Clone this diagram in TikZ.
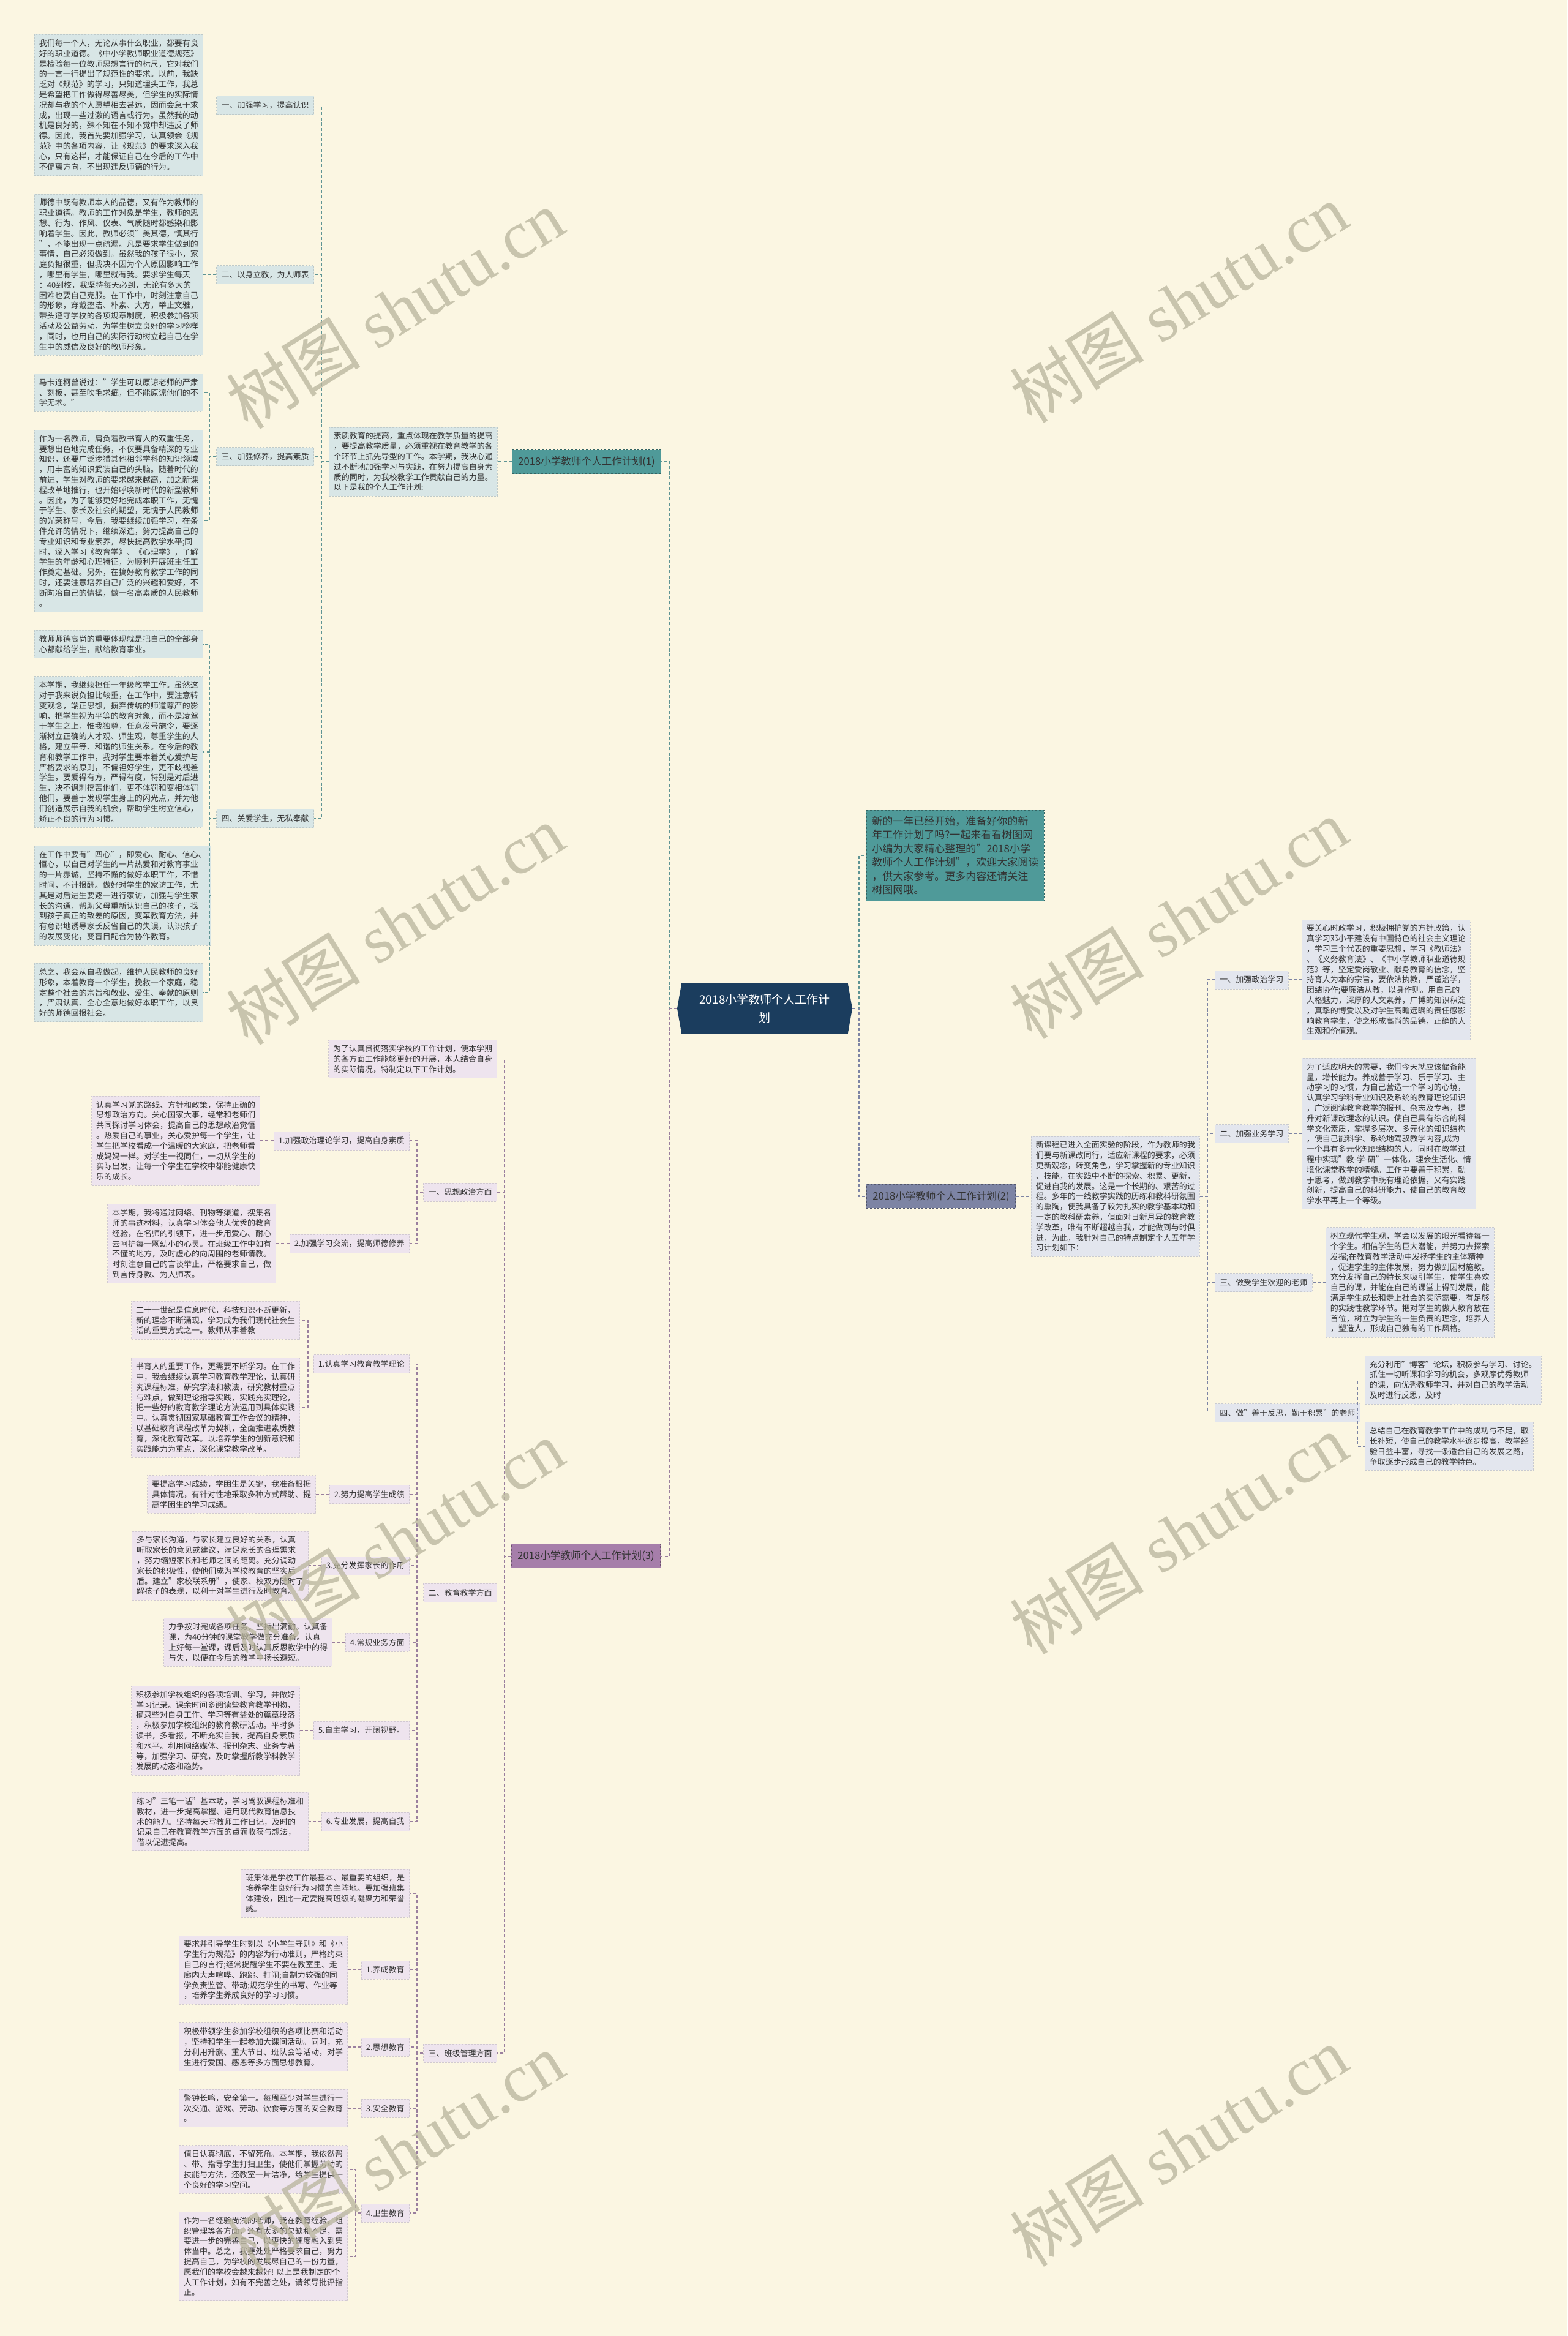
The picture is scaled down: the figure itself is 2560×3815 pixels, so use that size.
\documentclass[tikz,border=0pt]{standalone}
\usepackage{fontspec}
\setmainfont{Noto Sans CJK SC}
\newfontfamily\wmlatin{Liberation Serif}
\usetikzlibrary{calc,shapes.symbols}
\definecolor{bg}{HTML}{FBF6E2}
\definecolor{cNavy}{HTML}{1B3D5E}
\definecolor{cTeal}{HTML}{4F9A99}
\definecolor{cTealLine}{HTML}{5E9494}
\definecolor{cB1}{HTML}{D8E6E6}
\definecolor{cSlate}{HTML}{7D84A4}
\definecolor{cB2}{HTML}{E3E6EE}
\definecolor{cMauve}{HTML}{A67EAA}
\definecolor{cMauveLine}{HTML}{9A7F9E}
\definecolor{cB3}{HTML}{EEE4EE}
\definecolor{cTxt}{HTML}{333333}
\definecolor{cWm}{HTML}{B8B49C}
\begin{document}
\begin{tikzpicture}[x=1pt,y=-1pt,
  boxbase/.style={font=\fontsize{13}{16.8}\selectfont, text=cTxt, align=left, inner xsep=7.5pt, inner ysep=8pt, densely dashed, line width=0.6pt},
  tone/.style={boxbase, fill=cB1, draw=cB1!88!black},
  ttwo/.style={boxbase, fill=cB2, draw=cB2!88!black},
  tthree/.style={boxbase, fill=cB3, draw=cB3!88!black},
  labbase/.style={font=\fontsize{13}{16}\selectfont, text=cTxt, inner xsep=8pt, inner ysep=0pt, minimum height=30pt, densely dashed, line width=0.6pt},
  labone/.style={labbase, fill=cB1, draw=cB1!88!black},
  labtwo/.style={labbase, fill=cB2, draw=cB2!88!black},
  labthree/.style={labbase, fill=cB3, draw=cB3!88!black},
  brbase/.style={font=\fontsize{16.6}{19}\selectfont, text=cTxt, inner xsep=10pt, inner ysep=0pt, minimum height=39pt, dashed, line width=0.8pt},
  brone/.style={brbase, fill=cTeal, draw=cTeal!65!black},
  brtwo/.style={brbase, fill=cSlate, draw=cSlate!65!black},
  brthree/.style={brbase, fill=cMauve, draw=cMauve!65!black},
  lnbase/.style={dash pattern=on 5pt off 3.5pt, line width=1.3pt},
  lnone/.style={lnbase, draw=cTealLine},
  lntwo/.style={lnbase, draw=cSlate},
  lnthree/.style={lnbase, draw=cMauveLine},
  wm/.style={text=cWm, opacity=0.75, font=\fontsize{110}{110}\selectfont, rotate=32, inner sep=0pt}
]
\fill[bg] (0,0) rectangle (2560,3815);
\useasboundingbox (0,0) rectangle (2560,3815);

% x positions
\coordinate (v0) at (1094,0);
\coordinate (v0r) at (1403,0);
\coordinate (xlone) at (513,0);
\coordinate (vone) at (525,0);
\coordinate (vtwo) at (342,0);
\coordinate (xmone) at (537,0);
\coordinate (xbrone) at (836,0);
\coordinate (xs) at (669,0);
\coordinate (xg) at (812,0);
\coordinate (vg) at (681,0);
\coordinate (vbr3) at (824,0);
\coordinate (xbr3) at (835,0);
\coordinate (vq) at (503,0);
\coordinate (vr) at (581,0);
\coordinate (xk) at (1984,0);
\coordinate (vk) at (1972,0);
\coordinate (vkfour) at (2217,0);
\coordinate (xxo) at (1684,0);
\coordinate (xbrtwo) at (1415,0);

% center
\node[shape=signal, signal to=west and east, signal pointer angle=160, fill=cNavy, text=white, minimum width=286pt, minimum height=83pt, inner sep=0pt, align=center, font=\fontsize{19}{30}\selectfont] (C) at (1249,1647) {2018小学教师个人工作计\\划};

% ---------- branch 1 ----------
\node[tone, anchor=west] (B1) at (56,171.5) {我们每一个人，无论从事什么职业，都要有良\\好的职业道德。《中小学教师职业道德规范》\\是检验每一位教师思想言行的标尺，它对我们\\的一言一行提出了规范性的要求。以前，我缺\\乏对《规范》的学习，只知道埋头工作，我总\\是希望把工作做得尽善尽美，但学生的实际情\\况却与我的个人愿望相去甚远，因而会急于求\\成，出现一些过激的语言或行为。虽然我的动\\机是良好的，殊不知在不知不觉中却违反了师\\德。因此，我首先要加强学习，认真领会《规\\范》中的各项内容，让《规范》的要求深入我\\心，只有这样，才能保证自己在今后的工作中\\不偏离方向，不出现违反师德的行为。};
\node[tone, anchor=west] (B2) at (56,448.5) {师德中既有教师本人的品德，又有作为教师的\\职业道德。教师的工作对象是学生，教师的思\\想、行为、作风、仪表、气质随时都感染和影\\响着学生。因此，教师必须"美其德，慎其行\\"，不能出现一点疏漏。凡是要求学生做到的\\事情，自己必须做到。虽然我的孩子很小，家\\庭负担很重，但我决不因为个人原因影响工作\\，哪里有学生，哪里就有我。要求学生每天\\：40到校，我坚持每天必到，无论有多大的\\困难也要自己克服。在工作中，时刻注意自己\\的形象，穿戴整洁、朴素、大方，举止文雅，\\带头遵守学校的各项规章制度，积极参加各项\\活动及公益劳动，为学生树立良好的学习榜样\\，同时，也用自己的实际行动树立起自己在学\\生中的威信及良好的教师形象。};
\node[tone, anchor=west] (B3) at (56,641) {马卡连柯曾说过："学生可以原谅老师的严肃\\、刻板，甚至吹毛求疵，但不能原谅他们的不\\学无术。"};
\node[tone, anchor=west] (B4) at (56,850.5) {作为一名教师，肩负着教书育人的双重任务，\\要想出色地完成任务，不仅要具备精深的专业\\知识，还要广泛涉猎其他相邻学科的知识领域\\，用丰富的知识武装自己的头脑。随着时代的\\前进，学生对教师的要求越来越高，加之新课\\程改革地推行，也开始呼唤新时代的新型教师\\。因此，为了能够更好地完成本职工作，无愧\\于学生、家长及社会的期望，无愧于人民教师\\的光荣称号，今后，我要继续加强学习，在条\\件允许的情况下，继续深造，努力提高自己的\\专业知识和专业素养，尽快提高教学水平;同\\时，深入学习《教育学》、《心理学》，了解\\学生的年龄和心理特征，为顺利开展班主任工\\作奠定基础。另外，在搞好教育教学工作的同\\时，还要注意培养自己广泛的兴趣和爱好，不\\断陶冶自己的情操，做一名高素质的人民教师\\。};
\node[tone, anchor=west] (B5) at (56,1052) {教师师德高尚的重要体现就是把自己的全部身\\心都献给学生，献给教育事业。};
\node[tone, anchor=west] (B6) at (56,1228) {本学期，我继续担任一年级教学工作。虽然这\\对于我来说负担比较重，在工作中，要注意转\\变观念，端正思想，摒弃传统的师道尊严的影\\响，把学生视为平等的教育对象，而不是凌驾\\于学生之上，惟我独尊，任意发号施令，要逐\\渐树立正确的人才观、师生观，尊重学生的人\\格，建立平等、和谐的师生关系。在今后的教\\育和教学工作中，我对学生要本着关心爱护与\\严格要求的原则，不偏袒好学生，更不歧视差\\学生，要爱得有方，严得有度，特别是对后进\\生，决不讽刺挖苦他们，更不体罚和变相体罚\\他们，要善于发现学生身上的闪光点，并为他\\们创造展示自我的机会，帮助学生树立信心，\\矫正不良的行为习惯。};
\node[tone, anchor=west] (B7) at (56,1462.5) {在工作中要有"四心"，即爱心、耐心、信心、\\恒心，以自己对学生的一片热爱和对教育事业\\的一片赤诚，坚持不懈的做好本职工作，不惜\\时间，不计报酬。做好对学生的家访工作，尤\\其是对后进生要逐一进行家访，加强与学生家\\长的沟通，帮助父母重新认识自己的孩子，找\\到孩子真正的致差的原因，变革教育方法，并\\有意识地诱导家长反省自己的失误，认识孩子\\的发展变化，变盲目配合为协作教育。};
\node[tone, anchor=west] (B8) at (56,1621) {总之，我会从自我做起，维护人民教师的良好\\形象，本着教育一个学生，挽救一个家庭，稳\\定整个社会的宗旨和敬业、爱生、奉献的原则\\，严肃认真、全心全意地做好本职工作，以良\\好的师德回报社会。};

\node[labone, anchor=east] (L1) at (B1.east -| xlone) {一、加强学习，提高认识};
\node[labone, anchor=east] (L2) at (B2.east -| xlone) {二、以身立教，为人师表};
\coordinate (mthree) at ($(B3.east)!0.5!(B4.east)$);
\node[labone, anchor=east] (L3) at (mthree -| xlone) {三、加强修养，提高素质};
\coordinate (mfour) at ($(B5.east)!0.5!(B8.east)$);
\node[labone, anchor=east] (L4) at (mfour -| xlone) {四、关爱学生，无私奉献};
\coordinate (mmone) at ($(L1.east)!0.5!(L4.east)$);
\node[tone, anchor=west] (M1) at (mmone -| xmone) {素质教育的提高，重点体现在教学质量的提高\\，要提高教学质量，必须重视在教育教学的各\\个环节上抓先导型的工作。本学期，我决心通\\过不断地加强学习与实践，在努力提高自身素\\质的同时，为我校教学工作贡献自己的力量。\\以下是我的个人工作计划:};
\node[brone, anchor=west] (BR1) at (M1.west -| xbrone) {2018小学教师个人工作计划(1)};

\draw[lnone] (C.west) -- (C.west -| v0) |- (BR1.east);
\draw[lnone] (BR1.west) -- (M1.east);
\foreach \n in {L1,L2,L3,L4} {\draw[lnone] (M1.west) -- (M1.west -| vone) |- (\n.east);}
\draw[lnone] (L1.west) -- (B1.east);
\draw[lnone] (L2.west) -- (B2.east);
\foreach \n in {B3,B4} {\draw[lnone] (L3.west) -- (L3.west -| vtwo) |- (\n.east);}
\foreach \n in {B5,B6,B7,B8} {\draw[lnone] (L4.west) -- (L4.west -| vtwo) |- (\n.east);}

% ---------- branch 2 ----------
\node[boxbase, anchor=west, fill=cTeal, draw=cTeal!65!black, dashed, font=\fontsize{17}{22.5}\selectfont, inner xsep=9pt, inner ysep=10pt] (I0) at (1415,1397) {新的一年已经开始，准备好你的新\\年工作计划了吗?一起来看看树图网\\小编为大家精心整理的"2018小学\\教师个人工作计划"，欢迎大家阅读\\，供大家参考。更多内容还请关注\\树图网哦。};

\node[ttwo, anchor=west] (Y1) at (2126,1600) {要关心时政学习，积极拥护党的方针政策，认\\真学习邓小平建设有中国特色的社会主义理论\\，学习三个代表的重要思想，学习《教师法》\\、《义务教育法》、《中小学教师职业道德规\\范》等，坚定爱岗敬业、献身教育的信念，坚\\持育人为本的宗旨，要依法执教，严谨治学，\\团结协作;要廉洁从教，以身作则。用自己的\\人格魅力，深厚的人文素养，广博的知识积淀\\，真挚的博爱以及对学生高瞻远瞩的责任感影\\响教育学生，使之形成高尚的品德，正确的人\\生观和价值观。};
\node[ttwo, anchor=west] (Y2) at (2126,1851.5) {为了适应明天的需要，我们今天就应该储备能\\量，增长能力。养成善于学习、乐于学习、主\\动学习的习惯，为自己营造一个学习的心境，\\认真学习学科专业知识及系统的教育理论知识\\，广泛阅读教育教学的报刊、杂志及专著，提\\升对新课改理念的认识。使自己具有综合的科\\学文化素质，掌握多层次、多元化的知识结构\\，使自己能科学、系统地驾驭教学内容,成为\\一个具有多元化知识结构的人。同时在教学过\\程中实现"教-学-研"一体化，理会生活化、情\\境化课堂教学的精髓。工作中要善于积累，勤\\于思考，做到教学中既有理论依据，又有实践\\创新，提高自己的科研能力，使自己的教育教\\学水平再上一个等级。};
\node[ttwo, anchor=west] (Y3) at (2165,2094.5) {树立现代学生观，学会以发展的眼光看待每一\\个学生。相信学生的巨大潜能，并努力去探索\\发掘;在教育教学活动中发扬学生的主体精神\\，促进学生的主体发展，努力做到因材施教。\\充分发挥自己的特长来吸引学生，使学生喜欢\\自己的课，并能在自己的课堂上得到发展，能\\满足学生成长和走上社会的实际需要，有足够\\的实践性教学环节。把对学生的做人教育放在\\首位，树立为学生的一生负责的理念，培养人\\，塑造人，形成自己独有的工作风格。};
\node[ttwo, anchor=west] (Y4a) at (2229,2253.5) {充分利用"博客"论坛，积极参与学习、讨论。\\抓住一切听课和学习的机会，多观摩优秀教师\\的课，向优秀教师学习，并对自己的教学活动\\及时进行反思，及时};
\node[ttwo, anchor=west] (Y4b) at (2229,2362) {总结自己在教育教学工作中的成功与不足，取\\长补短，使自己的教学水平逐步提高，教学经\\验日益丰富，寻找一条适合自己的发展之路，\\争取逐步形成自己的教学特色。};

\node[labtwo, anchor=west] (K1) at (Y1.west -| xk) {一、加强政治学习};
\node[labtwo, anchor=west] (K2) at (Y2.west -| xk) {二、加强业务学习};
\node[labtwo, anchor=west] (K3) at (Y3.west -| xk) {三、做受学生欢迎的老师};
\coordinate (mkfour) at ($(Y4a.west)!0.5!(Y4b.west)$);
\node[labtwo, anchor=west] (K4) at (mkfour -| xk) {四、做"善于反思，勤于积累"的老师};
\coordinate (mxo) at ($(K1.west)!0.5!(K4.west)$);
\node[ttwo, anchor=west] (X0) at (mxo -| xxo) {新课程已进入全面实验的阶段，作为教师的我\\们要与新课改同行，适应新课程的要求，必须\\更新观念，转变角色，学习掌握新的专业知识\\、技能，在实践中不断的探索、积累、更新，\\促进自我的发展。这是一个长期的、艰苦的过\\程。多年的一线教学实践的历练和教科研氛围\\的熏陶，使我具备了较为扎实的教学基本功和\\一定的教科研素养，但面对日新月异的教育教\\学改革，唯有不断超越自我，才能做到与时俱\\进，为此，我针对自己的特点制定个人五年学\\习计划如下：};
\node[brtwo, anchor=west] (BR2) at (X0.west -| xbrtwo) {2018小学教师个人工作计划(2)};

\draw[lnone] (C.east) -- (C.east -| v0r) |- (I0.west);
\draw[lntwo] (C.east) -- (C.east -| v0r) |- (BR2.west);
\draw[lntwo] (BR2.east) -- (X0.west);
\foreach \n in {K1,K2,K3,K4} {\draw[lntwo] (X0.east) -- (X0.east -| vk) |- (\n.west);}
\draw[lntwo] (K1.east) -- (Y1.west);
\draw[lntwo] (K2.east) -- (Y2.west);
\draw[lntwo] (K3.east) -- (Y3.west);
\foreach \n in {Y4a,Y4b} {\draw[lntwo] (K4.east) -- (K4.east -| vkfour) |- (\n.west);}

% ---------- branch 3 ----------
\node[tthree, anchor=east] (T0) at (812,1729.5) {为了认真贯彻落实学校的工作计划，使本学期\\的各方面工作能够更好的开展，本人结合自身\\的实际情况，特制定以下工作计划。};
\node[tthree, anchor=east] (P1) at (425,1863) {认真学习党的路线、方针和政策，保持正确的\\思想政治方向。关心国家大事，经常和老师们\\共同探讨学习体会，提高自己的思想政治觉悟\\。热爱自己的事业，关心爱护每一个学生，让\\学生把学校看成一个温暖的大家庭，把老师看\\成妈妈一样。对学生一视同仁，一切从学生的\\实际出发，让每一个学生在学校中都能健康快\\乐的成长。};
\node[tthree, anchor=east] (P2) at (451,2031) {本学期，我将通过网络、刊物等渠道，搜集名\\师的事迹材料，认真学习体会他人优秀的教育\\经验，在名师的引领下，进一步用爱心、耐心\\去呵护每一颗幼小的心灵。在班级工作中如有\\不懂的地方，及时虚心的向周围的老师请教。\\时刻注意自己的言谈举止，严格要求自己，做\\到言传身教、为人师表。};
\node[labthree, anchor=east] (S11) at (P1.east -| xs) {1.加强政治理论学习，提高自身素质};
\node[labthree, anchor=east] (S12) at (P2.east -| xs) {2.加强学习交流，提高师德修养};
\coordinate (mgone) at ($(S11.east)!0.5!(S12.east)$);
\node[labthree, anchor=east] (G1) at (mgone -| xg) {一、思想政治方面};

\node[tthree, anchor=east] (Q1a) at (490,2156) {二十一世纪是信息时代，科技知识不断更新，\\新的理念不断涌现，学习成为我们现代社会生\\活的重要方式之一。教师从事着教};
\node[tthree, anchor=east] (Q1b) at (490,2299) {书育人的重要工作，更需要不断学习。在工作\\中，我会继续认真学习教育教学理论，认真研\\究课程标准，研究学法和教法，研究教材重点\\与难点，做到理论指导实践，实践充实理论，\\把一些好的教育教学理论方法运用到具体实践\\中。认真贯彻国家基础教育工作会议的精神，\\以基础教育课程改革为契机，全面推进素质教\\育，深化教育改革。以培养学生的创新意识和\\实践能力为重点，深化课堂教学改革。};
\node[tthree, anchor=east] (Q2) at (516,2440.5) {要提高学习成绩，学困生是关键，我准备根据\\具体情况，有针对性地采取多种方式帮助、提\\高学困生的学习成绩。};
\node[tthree, anchor=east] (Q3) at (504,2557) {多与家长沟通，与家长建立良好的关系，认真\\听取家长的意见或建议，满足家长的合理需求\\，努力缩短家长和老师之间的距离。充分调动\\家长的积极性，使他们成为学校教育的坚实后\\盾。建立"家校联系册"，使家、校双方随时了\\解孩子的表现，以利于对学生进行及时教育。};
\node[tthree, anchor=east] (Q4) at (543,2682) {力争按时完成各项任务，坚持出满勤。认真备\\课，为40分钟的课堂教学做充分准备。认真\\上好每一堂课，课后及时认真反思教学中的得\\与失，以便在今后的教学中扬长避短。};
\node[tthree, anchor=east] (Q5) at (490,2826) {积极参加学校组织的各项培训、学习，并做好\\学习记录。课余时间多阅读些教育教学刊物，\\摘录些对自身工作、学习等有益处的篇章段落\\，积极参加学校组织的教育教研活动。平时多\\读书，多看报，不断充实自我，提高自身素质\\和水平。利用网络媒体、报刊杂志、业务专著\\等，加强学习、研究，及时掌握所教学科教学\\发展的动态和趋势。};
\node[tthree, anchor=east] (Q6) at (504,2975) {练习"三笔一话"基本功，学习驾驭课程标准和\\教材，进一步提高掌握、运用现代教育信息技\\术的能力。坚持每天写教师工作日记，及时的\\记录自己在教育教学方面的点滴收获与想法，\\借以促进提高。};
\coordinate (msone) at ($(Q1a.east)!0.5!(Q1b.east)$);
\node[labthree, anchor=east] (S21) at (msone -| xs) {1.认真学习教育教学理论};
\node[labthree, anchor=east] (S22) at (Q2.east -| xs) {2.努力提高学生成绩};
\node[labthree, anchor=east] (S23) at (Q3.east -| xs) {3.充分发挥家长的作用};
\node[labthree, anchor=east] (S24) at (Q4.east -| xs) {4.常规业务方面};
\node[labthree, anchor=east] (S25) at (Q5.east -| xs) {5.自主学习，开阔视野。};
\node[labthree, anchor=east] (S26) at (Q6.east -| xs) {6.专业发展，提高自我};
\coordinate (mgtwo) at ($(S21.east)!0.5!(S26.east)$);
\node[labthree, anchor=east] (G2) at (mgtwo -| xg) {二、教育教学方面};

\node[tthree, anchor=east] (R0) at (669,3092) {班集体是学校工作最基本、最重要的组织，是\\培养学生良好行为习惯的主阵地。要加强班集\\体建设，因此一定要提高班级的凝聚力和荣誉\\感。};
\node[tthree, anchor=east] (R1) at (568,3217) {要求并引导学生时刻以《小学生守则》和《小\\学生行为规范》的内容为行动准则，严格约束\\自己的言行;经常提醒学生不要在教室里、走\\廊内大声喧哗、跑跳、打闹;自制力较强的同\\学负责监管、带动;规范学生的书写、作业等\\，培养学生养成良好的学习习惯。};
\node[tthree, anchor=east] (R2) at (568,3343) {积极带领学生参加学校组织的各项比赛和活动\\，坚持和学生一起参加大课间活动。同时，充\\分利用升旗、重大节日、班队会等活动，对学\\生进行爱国、感恩等多方面思想教育。};
\node[tthree, anchor=east] (R3) at (568,3443) {警钟长鸣，安全第一。每周至少对学生进行一\\次交通、游戏、劳动、饮食等方面的安全教育\\。};
\node[tthree, anchor=east] (R4a) at (568,3543) {值日认真彻底，不留死角。本学期，我依然帮\\、带、指导学生打扫卫生，使他们掌握劳动的\\技能与方法，还教室一片洁净，给学生提供一\\个良好的学习空间。};
\node[tthree, anchor=east] (R4b) at (568,3685) {作为一名经验尚浅的老师，我在教育经验，组\\织管理等各方面，还有太多的欠缺和不足，需\\要进一步的完善自己，以更快的速度融入到集\\体当中。总之，我要处处严格要求自己，努力\\提高自己，为学校的发展尽自己的一份力量，\\愿我们的学校会越来越好! 以上是我制定的个\\人工作计划，如有不完善之处，请领导批评指\\正。};
\node[labthree, anchor=east] (S31) at (R1.east -| xs) {1.养成教育};
\node[labthree, anchor=east] (S32) at (R2.east -| xs) {2.思想教育};
\node[labthree, anchor=east] (S33) at (R3.east -| xs) {3.安全教育};
\coordinate (msfour) at ($(R4a.east)!0.5!(R4b.east)$);
\node[labthree, anchor=east] (S34) at (msfour -| xs) {4.卫生教育};
\coordinate (mgthree) at ($(R0.east)!0.5!(S34.east)$);
\node[labthree, anchor=east] (G3) at (mgthree -| xg) {三、班级管理方面};
\coordinate (mbrthree) at ($(T0.east)!0.5!(G3.east)$);
\node[brthree, anchor=west] (BR3) at (mbrthree -| xbr3) {2018小学教师个人工作计划(3)};

\draw[lnthree] (C.west) -- (C.west -| v0) |- (BR3.east);
\foreach \n in {T0,G1,G2,G3} {\draw[lnthree] (BR3.west) -- (BR3.west -| vbr3) |- (\n.east);}
\foreach \n in {S11,S12} {\draw[lnthree] (G1.west) -- (G1.west -| vg) |- (\n.east);}
\draw[lnthree] (S11.west) -- (P1.east);
\draw[lnthree] (S12.west) -- (P2.east);
\foreach \n in {S21,S22,S23,S24,S25,S26} {\draw[lnthree] (G2.west) -- (G2.west -| vg) |- (\n.east);}
\foreach \n in {Q1a,Q1b} {\draw[lnthree] (S21.west) -- (S21.west -| vq) |- (\n.east);}
\draw[lnthree] (S22.west) -- (Q2.east);
\draw[lnthree] (S23.west) -- (Q3.east);
\draw[lnthree] (S24.west) -- (Q4.east);
\draw[lnthree] (S25.west) -- (Q5.east);
\draw[lnthree] (S26.west) -- (Q6.east);
\foreach \n in {R0,S31,S32,S33,S34} {\draw[lnthree] (G3.west) -- (G3.west -| vg) |- (\n.east);}
\draw[lnthree] (S31.west) -- (R1.east);
\draw[lnthree] (S32.west) -- (R2.east);
\draw[lnthree] (S33.west) -- (R3.east);
\foreach \n in {R4a,R4b} {\draw[lnthree] (S34.west) -- (S34.west -| vr) |- (\n.east);}

% ---------- watermarks ----------
\node[wm] (w1) at (645,505) {树图\hspace{0.25em}{\wmlatin shutu.cn}};
\node[wm] (w2) at (1925,495) {树图\hspace{0.25em}{\wmlatin shutu.cn}};
\node[wm] (w3) at (645,1510) {树图\hspace{0.25em}{\wmlatin shutu.cn}};
\node[wm] (w4) at (1925,1500) {树图\hspace{0.25em}{\wmlatin shutu.cn}};
\node[wm] (w5) at (645,2515) {树图\hspace{0.25em}{\wmlatin shutu.cn}};
\node[wm] (w6) at (1925,2505) {树图\hspace{0.25em}{\wmlatin shutu.cn}};
\node[wm] (w7) at (645,3515) {树图\hspace{0.25em}{\wmlatin shutu.cn}};
\node[wm] (w8) at (1925,3505) {树图\hspace{0.25em}{\wmlatin shutu.cn}};
\end{tikzpicture}
\end{document}
